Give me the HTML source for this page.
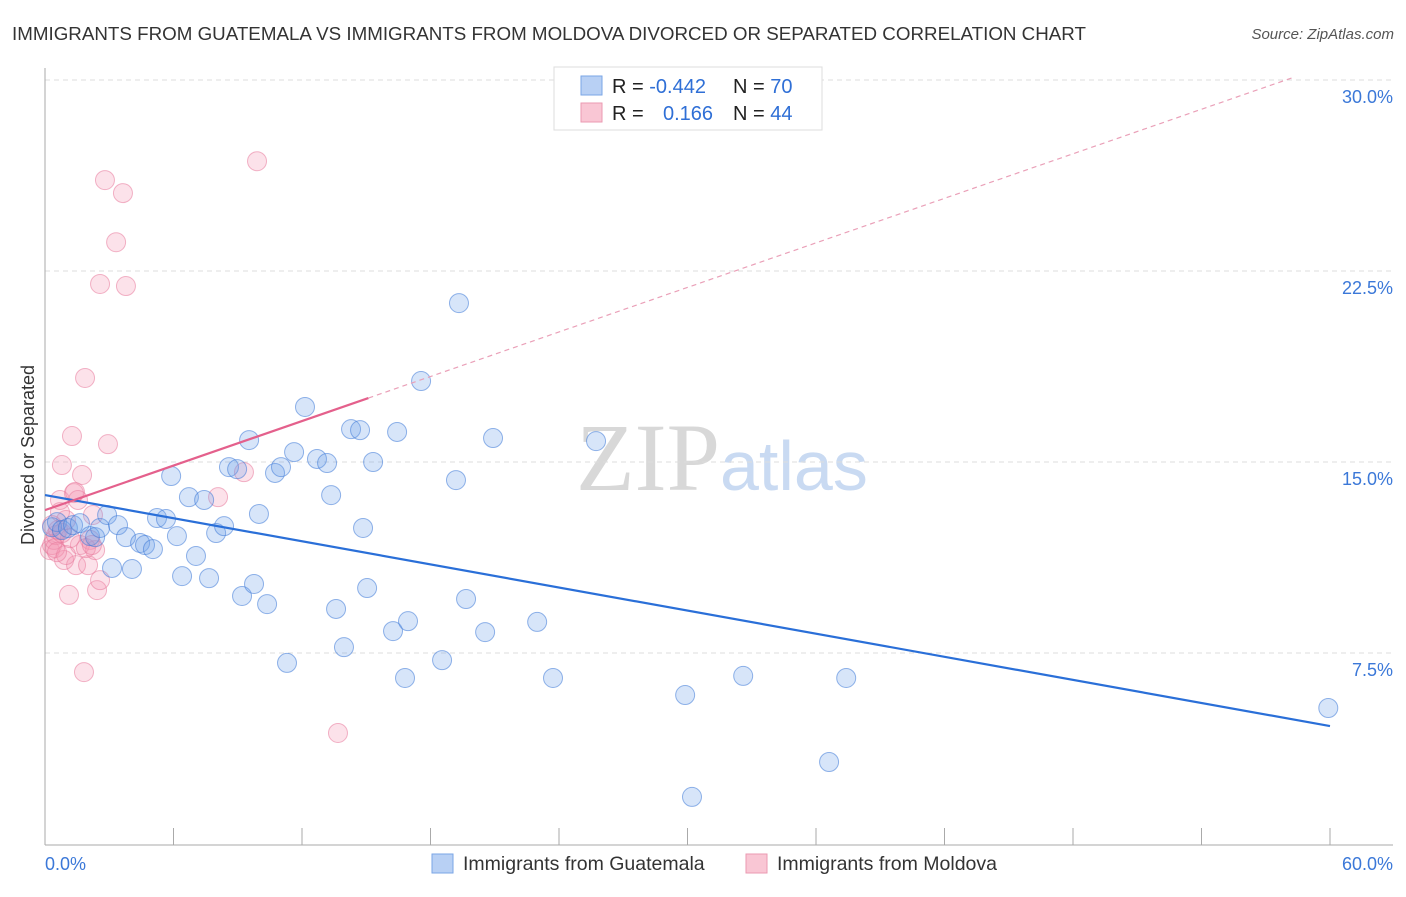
<!DOCTYPE html>
<html><head><meta charset="utf-8"><style>
body{margin:0;background:#fff;font-family:"Liberation Sans",sans-serif}
</style></head><body>
<svg id="c" width="1406" height="892" xmlns="http://www.w3.org/2000/svg">
<text x="12" y="40" font-size="18" fill="#333" textLength="1074" lengthAdjust="spacingAndGlyphs">IMMIGRANTS FROM GUATEMALA VS IMMIGRANTS FROM MOLDOVA DIVORCED OR SEPARATED CORRELATION CHART</text>
<text x="1394" y="39" font-size="15" fill="#555" font-style="italic" text-anchor="end">Source: ZipAtlas.com</text>
<text x="720" y="490" font-size="96" fill="#d8d8d8" font-family="Liberation Serif,serif" text-anchor="end">ZIP</text>
<text x="720" y="490" font-size="70" fill="#c9daf2">atlas</text>
<text transform="translate(34,455) rotate(-90)" font-size="18" fill="#333" text-anchor="middle">Divorced or Separated</text>
<g id="grid"></g><g id="axes"></g><g id="pts"></g><g id="lines"></g>
<g>
<rect x="554" y="67" width="268" height="63" fill="#fff" stroke="#ddd"/>
<rect x="581" y="76" width="21" height="19" fill="#b8d0f4" stroke="#7aa6e6"/>
<rect x="581" y="103" width="21" height="19" fill="#f9c6d4" stroke="#eb9ab2"/>
<text x="612" y="93" font-size="20" fill="#222">R = <tspan fill="#2f6fd6">-0.442</tspan><tspan x="733">N = </tspan><tspan fill="#2f6fd6">70</tspan></text>
<text x="612" y="120" font-size="20" fill="#222">R = <tspan x="663" fill="#2f6fd6">0.166</tspan><tspan x="733">N = </tspan><tspan fill="#2f6fd6">44</tspan></text>
</g>
<g>
<rect x="432" y="854" width="21" height="19" fill="#b8d0f4" stroke="#7aa6e6"/>
<text x="463" y="870" font-size="19.5" fill="#333">Immigrants from Guatemala</text>
<rect x="746" y="854" width="21" height="19" fill="#f9c6d4" stroke="#eb9ab2"/>
<text x="777" y="870" font-size="19.5" fill="#333">Immigrants from Moldova</text>
</g>
</svg>
<script>
const yTicks=[7.5,15,22.5,30];
const yTickLabels=["7.5%","15.0%","22.5%","30.0%"];
const xTickLabels=["0.0%","60.0%"];
const blueX=[.33,.56,.79,1.07,1.31,1.63,2.10,2.34,2.57,2.90,3.13,3.41,3.78,4.06,4.44,4.67,5.04,5.23,5.65,5.89,6.16,6.40,6.72,7.05,7.43,7.66,7.99,8.36,8.59,8.97,9.20,9.53,9.76,9.99,10.37,10.74,11.02,11.30,11.63,12.14,12.70,13.17,13.36,13.59,13.96,14.29,14.71,14.85,15.04,15.32,16.25,16.44,16.81,16.95,17.56,18.54,19.19,19.33,19.66,20.55,20.92,22.98,23.72,25.73,29.89,30.21,32.60,36.61,37.41,59.92];
const blueY=[12.44,12.64,12.33,12.41,12.52,12.60,12.09,12.05,12.41,12.92,10.84,12.52,12.05,10.80,11.82,11.74,11.58,12.80,12.76,14.45,12.09,10.52,13.62,11.31,13.51,10.44,12.21,12.48,14.80,14.72,9.74,15.86,10.21,12.96,9.42,14.57,14.80,7.11,15.39,17.16,15.12,14.96,13.70,9.23,7.73,16.29,16.25,12.41,10.05,15.00,8.36,16.18,6.52,8.75,18.18,7.22,14.29,21.24,9.62,8.32,15.94,8.72,6.52,15.82,5.85,1.85,6.60,3.22,6.52,5.34];
const pinkX=[.23,.33,.42,.51,.61,.70,.79,.89,.98,1.12,1.26,1.35,1.45,1.54,1.63,1.73,1.82,1.87,2.01,2.10,2.24,2.34,2.43,2.57,2.80,2.94,3.32,3.64,3.78,2.57,8.08,9.29,9.90,13.68,.47,.70,.98,1.17,1.40,.56,.79,1.91,2.19,.33];
const pinkY=[11.54,11.74,11.94,12.13,12.33,13.51,14.88,11.15,12.72,9.78,16.02,13.78,10.95,13.51,11.74,14.49,6.75,18.30,10.95,11.94,12.92,11.54,9.97,10.36,26.07,15.70,23.63,25.56,21.91,21.99,13.62,14.60,26.81,4.36,11.62,13.03,11.35,12.01,13.82,11.46,12.21,11.62,11.74,12.52];
const blueTrend=[13.70,4.63];
const pinkTrend=[13.11,30.60];
const pinkSolidEnd=15.1;

const NS="http://www.w3.org/2000/svg";
const X=v=>45+v/60*1285, Y=v=>844-v*25.467;
function mk(tag,attrs,parent){const e=document.createElementNS(NS,tag);for(const k in attrs)e.setAttribute(k,attrs[k]);document.getElementById(parent).appendChild(e);return e;}
yTicks.forEach((t,i)=>{
 const g=mk('line',{x1:45,x2:1393,y1:Y(t),y2:Y(t),stroke:'#ddd','stroke-dasharray':'5,4'},'grid');
 
 
 const l=mk('text',{x:1393,y:Y(t)+23,'font-size':18,fill:'#3b78d8','text-anchor':'end'},'grid');l.textContent=yTickLabels[i];
 
 
});
const ax=mk('line',{x1:45,x2:45,y1:68,y2:845,stroke:'#aaa'},'axes');


const bx=mk('line',{x1:45,x2:1393,y1:845,y2:845,stroke:'#aaa'},'axes');


for(let i=0;i<=10;i++){const t=mk('line',{x1:X(i*6),x2:X(i*6),y1:828,y2:845,stroke:'#aaa'},'axes');
 
 }
[0,60].forEach((v,i)=>{const t=mk('text',{x:i?1393:45,y:870,'font-size':18,fill:'#3b78d8','text-anchor':i?'end':'start'},'axes');t.textContent=xTickLabels[i];
 
 });
pinkX.forEach((x,i)=>{const c=mk('circle',{cx:X(x),cy:Y(pinkY[i]),r:9.5,fill:'rgba(244,150,178,0.28)',stroke:'rgba(232,120,155,0.55)'},'pts');
 
 });
blueX.forEach((x,i)=>{const c=mk('circle',{cx:X(x),cy:Y(blueY[i]),r:9.5,fill:'rgba(110,160,235,0.28)',stroke:'rgba(60,120,215,0.55)'},'pts');
 
 });
const pv=x=>pinkTrend[0]+(pinkTrend[1]-pinkTrend[0])*x/60;
const bl=mk('line',{x1:X(0),y1:Y(blueTrend[0]),x2:X(60),y2:Y(blueTrend[1]),stroke:'#2a6fd8','stroke-width':2.2},'lines');


const ps=mk('line',{x1:X(0),y1:Y(pv(0)),x2:X(pinkSolidEnd),y2:Y(pv(pinkSolidEnd)),stroke:'#e4608c','stroke-width':2.2},'lines');


const pd=mk('line',{x1:X(pinkSolidEnd),y1:Y(pv(pinkSolidEnd)),x2:X(58.3),y2:Y(pv(58.3)),stroke:'#eaa0b8','stroke-width':1.2,'stroke-dasharray':'5,4'},'lines');


</script>
</body></html>
